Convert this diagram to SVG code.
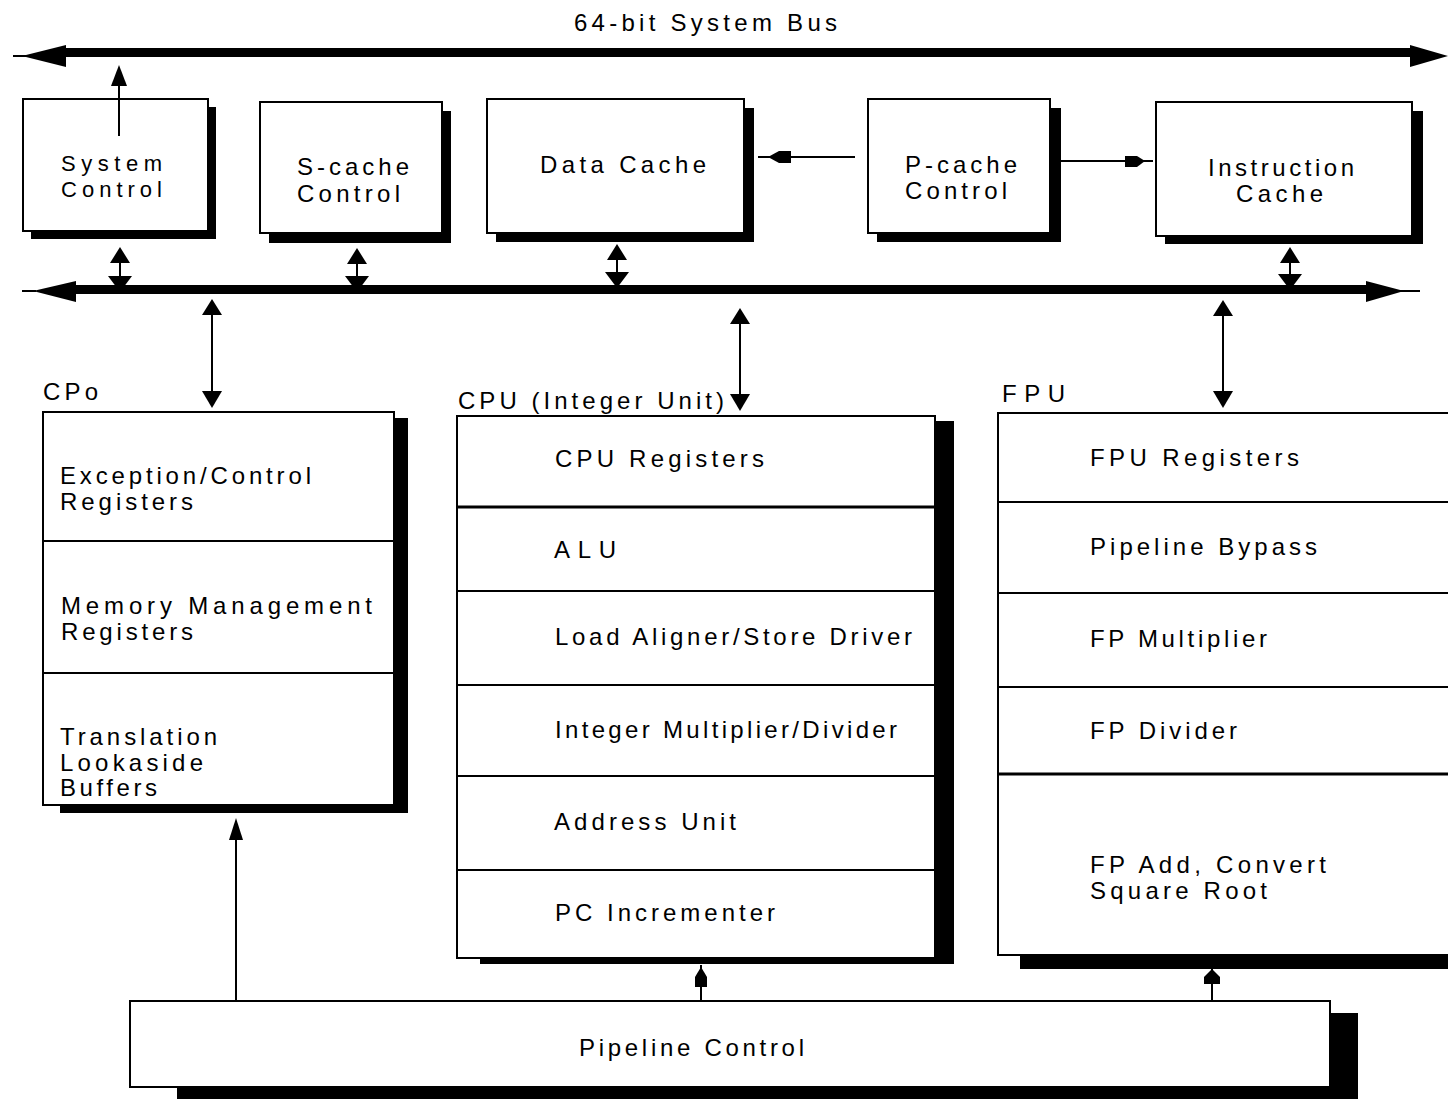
<svg xmlns="http://www.w3.org/2000/svg" width="1448" height="1099" viewBox="0 0 1448 1099">
<style>
.box{fill:#fff;stroke:#000;stroke-width:2}
.sh{fill:#000}
.t{font-family:"Liberation Sans",Arial,Helvetica,sans-serif;font-size:24px;fill:#000}
.ts{font-size:22px}
.dv{stroke:#000;stroke-width:2;fill:none}
.dv3{stroke:#000;stroke-width:3;fill:none}
.ln{stroke:#000;stroke-width:2;fill:none}
.hd{fill:#000;stroke:none}
</style>
<defs>
<path id="hUp" d="M0,0 L-10,16 L10,16 Z"/>
<path id="hDown" d="M0,0 L-10,-17 L10,-17 Z"/>
<path id="hDownTrap" d="M-12,0 L12,0 L0,16 Z"/>
</defs>
<rect width="1448" height="1099" fill="#fff"/>

<text class="t" x="574" y="31" textLength="263" lengthAdjust="spacing">64-bit System Bus</text>

<g id="connectors">
  <!-- top system bus -->
  <rect x="60" y="48" width="1355" height="9" fill="#000"/>
  <line class="ln" x1="13" y1="56" x2="26" y2="56"/>
  <polygon class="hd" points="22,56 66,45 66,67"/>
  <polygon class="hd" points="1410,45 1448,56 1410,67"/>
  <!-- internal bus -->
  <rect x="70" y="285" width="1300" height="9" fill="#000"/>
  <line class="ln" x1="22" y1="291" x2="36" y2="291"/>
  <polygon class="hd" points="33,291 76,281 76,302"/>
  <polygon class="hd" points="1366,281 1404,291 1366,302"/>
  <line class="ln" x1="1400" y1="291" x2="1420" y2="291"/>

  <!-- System Control to system bus -->
  <line class="ln" x1="119" y1="136" x2="119" y2="80"/>
  <polygon class="hd" points="119,65 111,86 127,86"/>

  <!-- top boxes <-> internal bus -->
  <line class="ln" x1="120" y1="258" x2="120" y2="286"/>
  <use href="#hUp" x="120" y="247"/>
  <use href="#hDownTrap" x="120" y="276"/>
  <line class="ln" x1="357" y1="258" x2="357" y2="286"/>
  <use href="#hUp" x="357" y="248"/>
  <use href="#hDownTrap" x="357" y="276"/>
  <line class="ln" x1="617" y1="255" x2="617" y2="286"/>
  <use href="#hUp" x="617" y="244"/>
  <use href="#hDownTrap" x="617" y="272"/>
  <line class="ln" x1="1290" y1="258" x2="1290" y2="286"/>
  <use href="#hUp" x="1290" y="247"/>
  <use href="#hDownTrap" x="1290" y="274"/>

  <!-- P-cache arrows -->
  <line class="ln" x1="758" y1="157" x2="855" y2="157"/>
  <polygon class="hd" points="768,157 779,151 791,151 791,163 779,163"/>
  <line class="ln" x1="1050" y1="161" x2="1153" y2="161"/>
  <polygon class="hd" points="1125,156 1137,156 1145,161 1137,167 1125,167"/>

  <!-- internal bus <-> CP0 / CPU / FPU -->
  <line class="ln" x1="212" y1="310" x2="212" y2="398"/>
  <use href="#hUp" x="212" y="299"/>
  <use href="#hDown" x="212" y="408"/>
  <line class="ln" x1="740" y1="318" x2="740" y2="402"/>
  <use href="#hUp" x="740" y="308"/>
  <use href="#hDown" x="740" y="411"/>
  <line class="ln" x1="1223" y1="310" x2="1223" y2="398"/>
  <use href="#hUp" x="1223" y="300"/>
  <use href="#hDown" x="1223" y="408"/>

  <!-- pipeline control to units -->
  <line class="ln" x1="236" y1="830" x2="236" y2="1002"/>
  <polygon class="hd" points="236,818 229,840 243,840"/>
  <line class="ln" x1="701" y1="965" x2="701" y2="1002"/>
  <polygon class="hd" points="701,967 695,977 695,987 707,987 707,977"/>
  <line class="ln" x1="1212" y1="969" x2="1212" y2="1002"/>
  <polygon class="hd" points="1212,969 1204,977 1204,984 1220,984 1220,977"/>
</g>

<g id="system-control">
  <rect class="sh" x="31" y="107" width="185" height="132"/>
  <rect class="box" x="23" y="99" width="185" height="132"/>
  <text class="t ts" x="61" y="171" textLength="101" lengthAdjust="spacing">System</text>
  <text class="t ts" x="61" y="197" textLength="101" lengthAdjust="spacing">Control</text>
</g>
<line class="ln" x1="119" y1="100" x2="119" y2="136"/>

<g id="s-cache-control">
  <rect class="sh" x="269" y="111" width="182" height="132"/>
  <rect class="box" x="260" y="102" width="182" height="131"/>
  <text class="t" x="297" y="175" textLength="112" lengthAdjust="spacing">S-cache</text>
  <text class="t" x="297" y="202" textLength="103" lengthAdjust="spacing">Control</text>
</g>

<g id="data-cache">
  <rect class="sh" x="496" y="108" width="258" height="134"/>
  <rect class="box" x="487" y="99" width="257" height="134"/>
  <text class="t" x="540" y="173" textLength="166" lengthAdjust="spacing">Data Cache</text>
</g>

<g id="p-cache-control">
  <rect class="sh" x="877" y="108" width="184" height="134"/>
  <rect class="box" x="868" y="99" width="182" height="134"/>
  <text class="t" x="905" y="173" textLength="112" lengthAdjust="spacing">P-cache</text>
  <text class="t" x="905" y="199" textLength="102" lengthAdjust="spacing">Control</text>
</g>

<g id="instruction-cache">
  <rect class="sh" x="1165" y="111" width="258" height="133"/>
  <rect class="box" x="1156" y="102" width="256" height="134"/>
  <text class="t" x="1208" y="176" textLength="146" lengthAdjust="spacing">Instruction</text>
  <text class="t" x="1236" y="202" textLength="87" lengthAdjust="spacing">Cache</text>
</g>

<g id="cp0">
  <text class="t" x="43" y="400" textLength="55" lengthAdjust="spacing">CPo</text>
  <rect class="sh" x="60" y="418" width="348" height="395"/>
  <rect class="box" x="43" y="412" width="351" height="393"/>
  <line class="dv" x1="43" y1="541" x2="394" y2="541"/>
  <line class="dv" x1="43" y1="673" x2="394" y2="673"/>
  <text class="t" x="60" y="484" textLength="251" lengthAdjust="spacing">Exception/Control</text>
  <text class="t" x="60" y="510" textLength="133" lengthAdjust="spacing">Registers</text>
  <text class="t" x="61" y="614" textLength="311" lengthAdjust="spacing">Memory Management</text>
  <text class="t" x="61" y="640" textLength="132" lengthAdjust="spacing">Registers</text>
  <text class="t" x="60" y="745" textLength="157" lengthAdjust="spacing">Translation</text>
  <text class="t" x="60" y="771" textLength="143" lengthAdjust="spacing">Lookaside</text>
  <text class="t" x="60" y="796" textLength="97" lengthAdjust="spacing">Buffers</text>
</g>

<g id="cpu">
  <text class="t" x="458" y="409" textLength="266" lengthAdjust="spacing">CPU (Integer Unit)</text>
  <rect class="sh" x="480" y="421" width="474" height="543"/>
  <rect class="box" x="457" y="416" width="478" height="542"/>
  <line class="dv3" x1="457" y1="507" x2="935" y2="507"/>
  <line class="dv" x1="457" y1="591" x2="935" y2="591"/>
  <line class="dv" x1="457" y1="685" x2="935" y2="685"/>
  <line class="dv" x1="457" y1="776" x2="935" y2="776"/>
  <line class="dv" x1="457" y1="870" x2="935" y2="870"/>
  <text class="t" x="555" y="467" textLength="209" lengthAdjust="spacing">CPU Registers</text>
  <text class="t" x="554" y="558" textLength="62" lengthAdjust="spacing">ALU</text>
  <text class="t" x="555" y="645" textLength="357" lengthAdjust="spacing">Load Aligner/Store Driver</text>
  <text class="t" x="555" y="738" textLength="342" lengthAdjust="spacing">Integer Multiplier/Divider</text>
  <text class="t" x="554" y="830" textLength="182" lengthAdjust="spacing">Address Unit</text>
  <text class="t" x="555" y="921" textLength="220" lengthAdjust="spacing">PC Incrementer</text>
</g>

<g id="fpu">
  <text class="t" x="1002" y="402" textLength="63" lengthAdjust="spacing">FPU</text>
  <rect class="sh" x="1020" y="420" width="460" height="549"/>
  <rect class="box" x="998" y="413" width="470" height="542"/>
  <line class="dv" x1="998" y1="502" x2="1448" y2="502"/>
  <line class="dv" x1="998" y1="593" x2="1448" y2="593"/>
  <line class="dv" x1="998" y1="687" x2="1448" y2="687"/>
  <line class="dv3" x1="998" y1="774" x2="1448" y2="774"/>
  <text class="t" x="1090" y="466" textLength="209" lengthAdjust="spacing">FPU Registers</text>
  <text class="t" x="1090" y="555" textLength="227" lengthAdjust="spacing">Pipeline Bypass</text>
  <text class="t" x="1090" y="647" textLength="177" lengthAdjust="spacing">FP Multiplier</text>
  <text class="t" x="1090" y="739" textLength="147" lengthAdjust="spacing">FP Divider</text>
  <text class="t" x="1090" y="873" textLength="236" lengthAdjust="spacing">FP Add, Convert</text>
  <text class="t" x="1090" y="899" textLength="177" lengthAdjust="spacing">Square Root</text>
</g>

<g id="pipeline-control">
  <rect class="sh" x="177" y="1013" width="1181" height="100"/>
  <rect class="box" x="130" y="1001" width="1200" height="86"/>
  <text class="t" x="579" y="1056" textLength="225" lengthAdjust="spacing">Pipeline Control</text>
</g>
</svg>
